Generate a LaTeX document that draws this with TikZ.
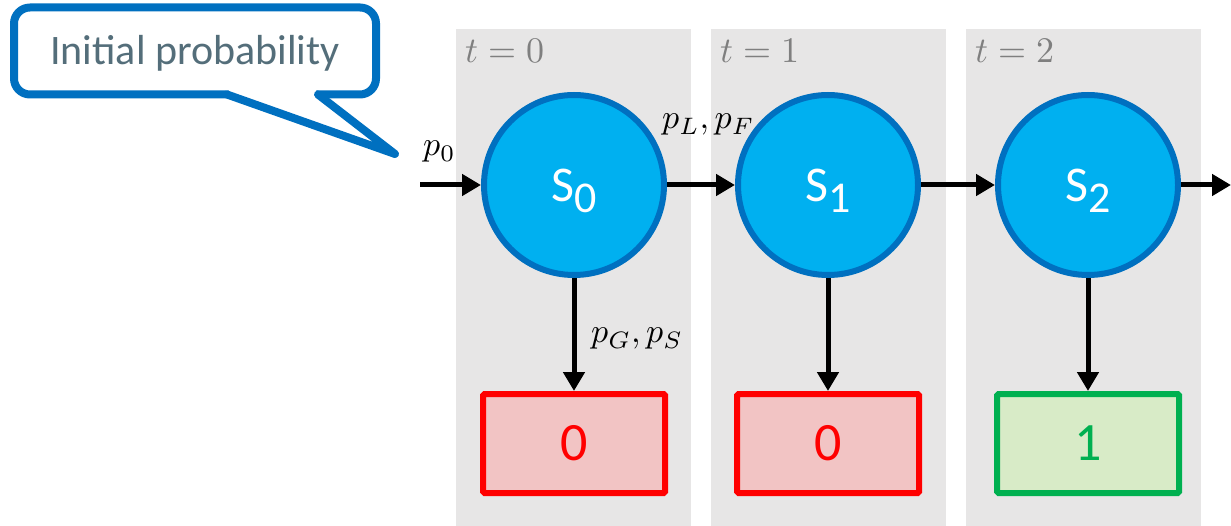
\documentclass[tikz,border=0pt]{standalone}
\usepackage{fontspec}
\usepackage{graphicx}
\newfontfamily\calibri{Carlito}
\usetikzlibrary{arrows.meta}
\definecolor{deepblue}{HTML}{0070C0}
\definecolor{skyblue}{HTML}{00B0F0}
\definecolor{colgray}{HTML}{E7E6E6}
\definecolor{labelgray}{HTML}{7F7F7F}
\definecolor{notegray}{HTML}{546E7A}
\definecolor{badred}{HTML}{FF0000}
\definecolor{badfill}{HTML}{F2C4C4}
\definecolor{goodgreen}{HTML}{00B050}
\definecolor{goodfill}{HTML}{D8EBC7}
\tikzset{
  column/.style={fill=colgray, draw=none},
  statenode/.style={circle, draw=deepblue, fill=skyblue, line width=6pt,
    minimum size=180pt, inner sep=0pt},
  statename/.style={anchor=base, inner sep=0pt, text=white,
    font=\calibri\fontsize{50}{50}\selectfont},
  rewardnode/.style={rectangle, line width=6pt, minimum width=182pt,
    minimum height=99pt, inner sep=0pt, rounded corners=1.5pt},
  lossbox/.style={rewardnode, draw=badred, fill=badfill, text=badred},
  winbox/.style={rewardnode, draw=goodgreen, fill=goodfill, text=goodgreen},
  flow/.style={line width=5pt, -{Triangle[length=19pt,width=21pt]}},
  timelabel/.style={anchor=base west, text=labelgray, inner sep=0pt},
  problabel/.style={anchor=base west, inner sep=0pt},
  noteline/.style={draw=deepblue, line width=8pt}
}
% math labels are set at 10pt and enlarged
\newcommand{\bigmath}[2]{\scalebox{#1}{$#2$}}
\newcommand{\statetext}[1]{S\raisebox{-11pt}{\fontsize{44}{44}\selectfont #1}}
\newcommand{\rewardtext}[1]{{\calibri\fontsize{54}{54}\selectfont #1}}
\begin{document}
\begin{tikzpicture}[x=1pt, y=-1pt]
\useasboundingbox (0,0) rectangle (1231,526);

% time-step columns
\fill[column] (456,29) rectangle (691,526);
\fill[column] (711,29) rectangle (946,526);
\fill[column] (966,29) rectangle (1201,526);

\node[timelabel] (t0) at (465,63) {\bigmath{3.6}{t=0}};
\node[timelabel] (t1) at (720,63) {\bigmath{3.6}{t=1}};
\node[timelabel] (t2) at (975,63) {\bigmath{3.6}{t=2}};

% states
\node[statenode] (s0) at (574,185) {};
\node[statenode] (s1) at (828,185) {};
\node[statenode] (s2) at (1088,185) {};
\node[statename] (n0) at (574,202) {\statetext{0}};
\node[statename] (n1) at (828,202) {\statetext{1}};
\node[statename] (n2) at (1088,202) {\statetext{2}};

% rewards
\node[lossbox] (r0) at (574,443.5) {\rewardtext{0}};
\node[lossbox] (r1) at (828,443.5) {\rewardtext{0}};
\node[winbox]  (r2) at (1088,443.5) {\rewardtext{1}};

% transitions
\coordinate (start) at (420,185);
\coordinate (finish) at (1231,185);
\draw[flow] (start) -- (s0);
\draw[flow] (s0) -- (s1);
\draw[flow] (s1) -- (s2);
\draw[flow] (s2) -- (finish);
\draw[flow] (s0) -- (r0);
\draw[flow] (s1) -- (r1);
\draw[flow] (s2) -- (r2);

\node[problabel] (p0) at (423,156) {\bigmath{3.4}{p_0}};
\node[problabel] (plf) at (662,129) {\bigmath{3.4}{p_L,p_F}};
\node[problabel] (pgs) at (591,343) {\bigmath{3.4}{p_G,p_S}};

% callout
\node[noteline, fill=white, rectangle, rounded corners=16pt,
  minimum width=362pt, minimum height=87pt] (note) at (195,51) {};
\fill[white] (229,90) -- (316,90) -- (318,94.5) -- (395,154) -- (227,94.5) -- cycle;
\draw[noteline, line join=round, line cap=round] (227,94.5) -- (395,154) -- (318,94.5);
\node[anchor=base, inner sep=0pt, text=notegray,
  font=\calibri\fontsize{42}{42}\selectfont] (notetext) at (195,65) {Initial probability};
\end{tikzpicture}
\end{document}
